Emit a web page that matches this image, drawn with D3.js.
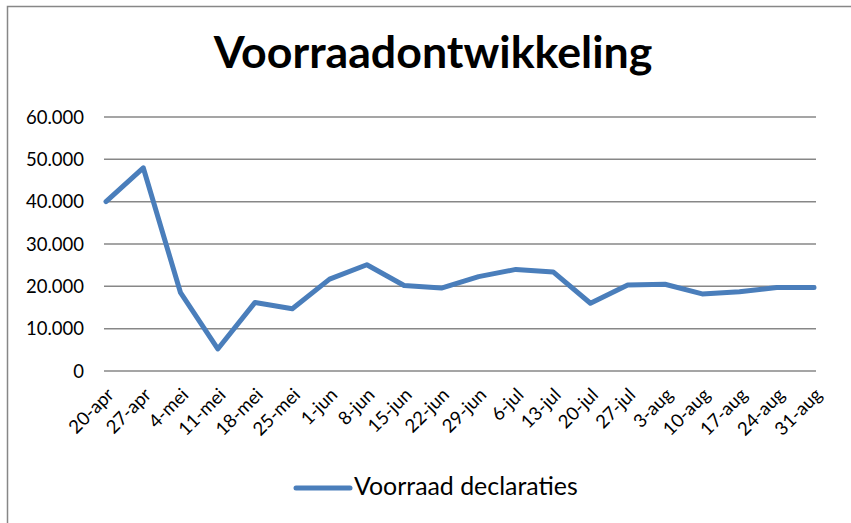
<!DOCTYPE html>
<html>
<head>
<meta charset="utf-8">
<script src="https://cdn.jsdelivr.net/npm/d3@7"></script>
<style>
  html, body { margin: 0; padding: 0; background: #fff; }
  svg { display: block; }
</style>
</head>
<body>
<div id="chart"></div>
<script>
// weekly stock figures
const weeks = ['20-apr', '27-apr', '4-mei', '11-mei', '18-mei', '25-mei', '1-jun', '8-jun',
  '15-jun', '22-jun', '29-jun', '6-jul', '13-jul', '20-jul', '27-jul', '3-aug',
  '10-aug', '17-aug', '24-aug', '31-aug'];
const voorraad = [40000, 48000, 18500, 5200, 16200, 14700, 21700, 25100,
  20200, 19600, 22300, 24000, 23400, 16000, 20300, 20500,
  18200, 18700, 19700, 19700];
const yTicks = [0, 10000, 20000, 30000, 40000, 50000, 60000];

const width = 851;
const height = 523;
const font = 'Lato, "Open Sans", sans-serif';
const blue = '#4a7ebb';
const grey = '#878787';

const svg = d3.select('#chart')
  .append('svg')
  .attr('width', width)
  .attr('height', height);

// chart frame (continues past right and bottom edge)
svg.append('path')
  .attr('d', 'M7.5,' + height + 'V6.5H' + width)
  .attr('fill', 'none')
  .attr('stroke', grey)
  .attr('stroke-width', 1.5);

const x = d3.scalePoint()
  .domain(weeks)
  .range([106, 814]);

const y = d3.scaleLinear()
  .domain([0, 60000])
  .range([371, 117]);

const fmt = d => d3.format(',')(d).replace(/,/g, '.');

// gridlines
svg.append('g')
  .selectAll('line')
  .data(yTicks)
  .join('line')
  .attr('x1', 104)
  .attr('x2', 816)
  .attr('y1', d => y(d))
  .attr('y2', d => y(d))
  .attr('stroke', grey)
  .attr('stroke-width', 1.5);

// y axis labels
svg.append('g')
  .selectAll('text')
  .data(yTicks)
  .join('text')
  .attr('x', 84)
  .attr('y', d => y(d))
  .attr('dy', '0.36em')
  .attr('text-anchor', 'end')
  .style('font-family', font)
  .style('font-size', '18.5px')
  .style('fill', '#000')
  .text(fmt);

// x axis labels, rotated
svg.append('g')
  .selectAll('text')
  .data(weeks)
  .join('text')
  .attr('transform', d => `translate(${x(d) + 9},${396}) rotate(-45)`)
  .attr('text-anchor', 'end')
  .style('font-family', font)
  .style('font-size', '18.5px')
  .style('fill', '#000')
  .text(d => d);

// the line
const line = d3.line()
  .x((d, i) => x(weeks[i]))
  .y(d => y(d));

svg.append('path')
  .datum(voorraad)
  .attr('d', line)
  .attr('fill', 'none')
  .attr('stroke', blue)
  .attr('stroke-width', 5)
  .attr('stroke-linejoin', 'round')
  .attr('stroke-linecap', 'round');

// title
const title = svg.append('text')
  .attr('x', 433)
  .attr('y', 68)
  .attr('text-anchor', 'middle')
  .style('font-family', font)
  .style('font-weight', 'bold')
  .style('font-size', '40px')
  .style('fill', '#000')
  .text('Voorraadontwikkeling');
// fit to the width of the original title
const tw = title.node().getComputedTextLength();
title.style('font-size', (40 * 439 / tw).toFixed(1) + 'px');

// legend
svg.append('line')
  .attr('x1', 296)
  .attr('x2', 350)
  .attr('y1', 488)
  .attr('y2', 488)
  .attr('stroke', blue)
  .attr('stroke-width', 5)
  .attr('stroke-linecap', 'round');

const leg = svg.append('text')
  .attr('x', 354)
  .attr('y', 495)
  .style('font-family', font)
  .style('font-size', '20px')
  .style('fill', '#000')
  .text('Voorraad declaraties');
const lw = leg.node().getComputedTextLength();
leg.style('font-size', (20 * 224 / lw).toFixed(1) + 'px');
</script>
</body>
</html>
